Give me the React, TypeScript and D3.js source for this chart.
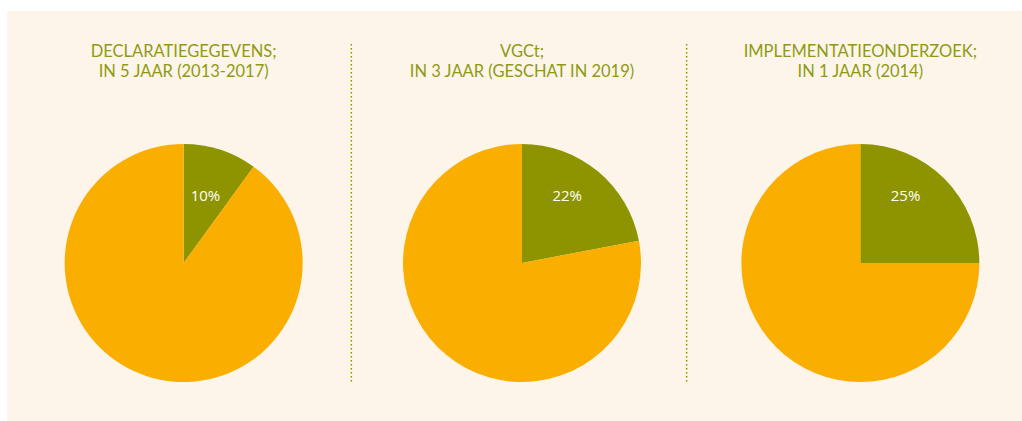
import React from "react";
import * as d3 from "d3";

const titlesLine1 = ["DECLARATIEGEGEVENS;", "VGCt;", "IMPLEMENTATIEONDERZOEK;"];
const titlesLine2 = ["IN 5 JAAR (2013-2017)", "IN 3 JAAR (GESCHAT IN 2019)", "IN 1 JAAR (2014)"];
const shares = [10, 22, 25];
const labels = ["10%", "22%", "25%"];

const W = 1022;
const H = 421;
const OLIVE = "#8d9400";
const ORANGE = "#f9ae00";
const BG = "#fdf5ea";
const TITLE = "#8f9a12";

export default function App() {
  const x = d3.scaleLinear().domain([0, 3]).range([14.5, 1029.5]);
  const R = 119;
  const cy = 263;
  const arc = d3.arc<d3.PieArcDatum<number>>().innerRadius(0).outerRadius(R);
  const pie = d3.pie<number>().sort(null).value((d) => d);
  const titleFont = "Lato, 'Open Sans', sans-serif";
  const font = "'Open Sans', 'Noto Sans', sans-serif";
  return (
    <div style={{ position: "fixed", left: 0, top: 0 }}>
      <svg width={W} height={H} style={{ display: "block" }}>
        <rect x={0} y={0} width={W} height={H} fill="#ffffff" />
        <rect x={7} y={11} width={W - 7} height={H - 11} fill={BG} />
        {[1, 2].map((i) => (
          <line
            key={i}
            x1={x(i) - 1.5 - (i - 1) * 3}
            x2={x(i) - 1.5 - (i - 1) * 3}
            y1={44}
            y2={384}
            stroke={OLIVE}
            strokeWidth={1.5}
            strokeDasharray="1.5 2.5"
          />
        ))}
        {shares.map((s, i) => {
          const cx = (x(i) + x(i + 1)) / 2;
          const arcs = pie([s, 100 - s]);
          const a = arcs[0];
          const mid = (a.startAngle + a.endAngle) / 2;
          const la = Math.min(mid, (34 * Math.PI) / 180);
          const ly = -67;
          const lx = 67 * Math.tan(la);
          return (
            <g key={i}>
              <text
                textAnchor="middle"
                fontFamily={titleFont}
                fontSize={16.5}
                fill={TITLE}
              >
                <tspan x={cx} y={57}>
                  {titlesLine1[i]}
                </tspan>
                <tspan x={cx} y={77}>
                  {titlesLine2[i]}
                </tspan>
              </text>
              <g transform={`translate(${cx},${cy})`}>
                {arcs.map((d, j) => (
                  <path key={j} d={arc(d) || ""} fill={j === 0 ? OLIVE : ORANGE} />
                ))}
                <text
                  x={lx}
                  y={ly}
                  dy="0.36em"
                  textAnchor="middle"
                  fontFamily={font}
                  fontSize={15}
                  fill="#ffffff"
                >
                  {labels[i]}
                </text>
              </g>
            </g>
          );
        })}
      </svg>
    </div>
  );
}
